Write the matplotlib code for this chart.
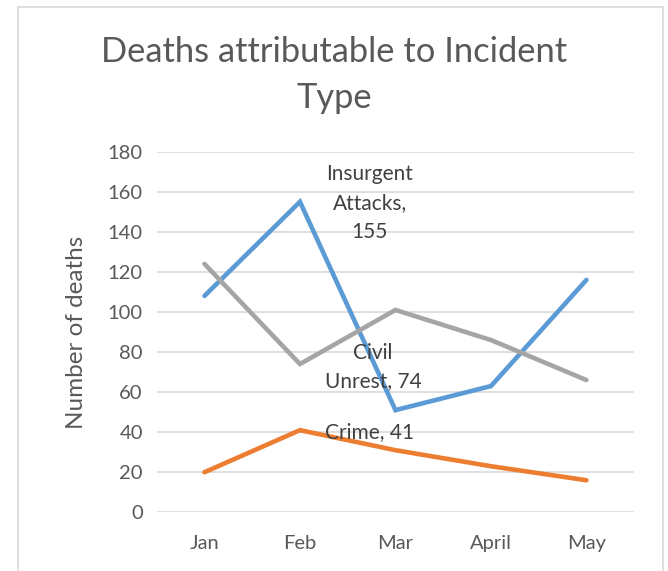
import matplotlib
matplotlib.use("Agg")
import matplotlib.pyplot as plt
from matplotlib.patches import Rectangle

months = ["Jan", "Feb", "Mar", "April", "May"]
insurgent = [108, 155, 51, 63, 116]
crime = [20, 41, 31, 23, 16]
civil = [124, 74, 101, 86, 66]
yticks = [0, 20, 40, 60, 80, 100, 120, 140, 160, 180]

plt.rcParams['font.family'] = ['Lato', 'DejaVu Sans']

W, H = 668, 571
fig = plt.figure(figsize=(W / 100, H / 100), dpi=100)
fig.patches.append(Rectangle((18 / W, -0.05), (663 - 18) / W, 1 - 7 / H + 0.05,
                             transform=fig.transFigure, fill=False,
                             edgecolor='#d9d9d9', linewidth=1.2))

ax = fig.add_axes([156.7 / W, 1 - 512.3 / H, (634.2 - 156.7) / W, (512.3 - 151.7) / H])
x = list(range(len(months)))
lw = 3.3
ax.plot(x, insurgent, color='#5B9BD5', lw=lw, solid_capstyle='round', solid_joinstyle='miter')
ax.plot(x, crime, color='#ED7D31', lw=lw, solid_capstyle='round', solid_joinstyle='miter')
ax.plot(x, civil, color='#A5A5A5', lw=lw, solid_capstyle='round', solid_joinstyle='miter')

ax.set_xlim(-0.5, len(months) - 0.5)
ax.set_ylim(0, 180)
ax.set_yticks(yticks)
ax.set_xticks(x)
ax.set_xticklabels(months)
ax.yaxis.grid(True, color='#d9d9d9', lw=1.2)
ax.set_axisbelow(True)
for s in ax.spines.values():
    s.set_visible(False)
ax.tick_params(axis='both', length=0, labelsize=14.5, colors='#595959')
ax.tick_params(axis='y', pad=10)
ax.tick_params(axis='x', pad=16)
ax.set_ylabel("Number of deaths", fontsize=17.5, color='#595959', labelpad=15)

lab_kw = dict(textcoords='offset pixels', ha='center', va='center', fontsize=15,
              color='#404040', linespacing=1.55)
ax.annotate("Insurgent\nAttacks,\n155", xy=(1, insurgent[1]), xytext=(70, -1), **lab_kw)
ax.annotate("Civil\nUnrest, 74", xy=(1, civil[1]), xytext=(73, -3), **lab_kw)
ax.annotate("Crime, 41", xy=(1, crime[1]), xytext=(70, -2), **lab_kw)

fig.text(0.5, 1 - 75 / H, "Deaths attributable to Incident\nType", ha='center', va='center',
         fontsize=24.8, color='#595959', linespacing=1.55, fontweight='normal')

fig.savefig("out.png", dpi=100)
